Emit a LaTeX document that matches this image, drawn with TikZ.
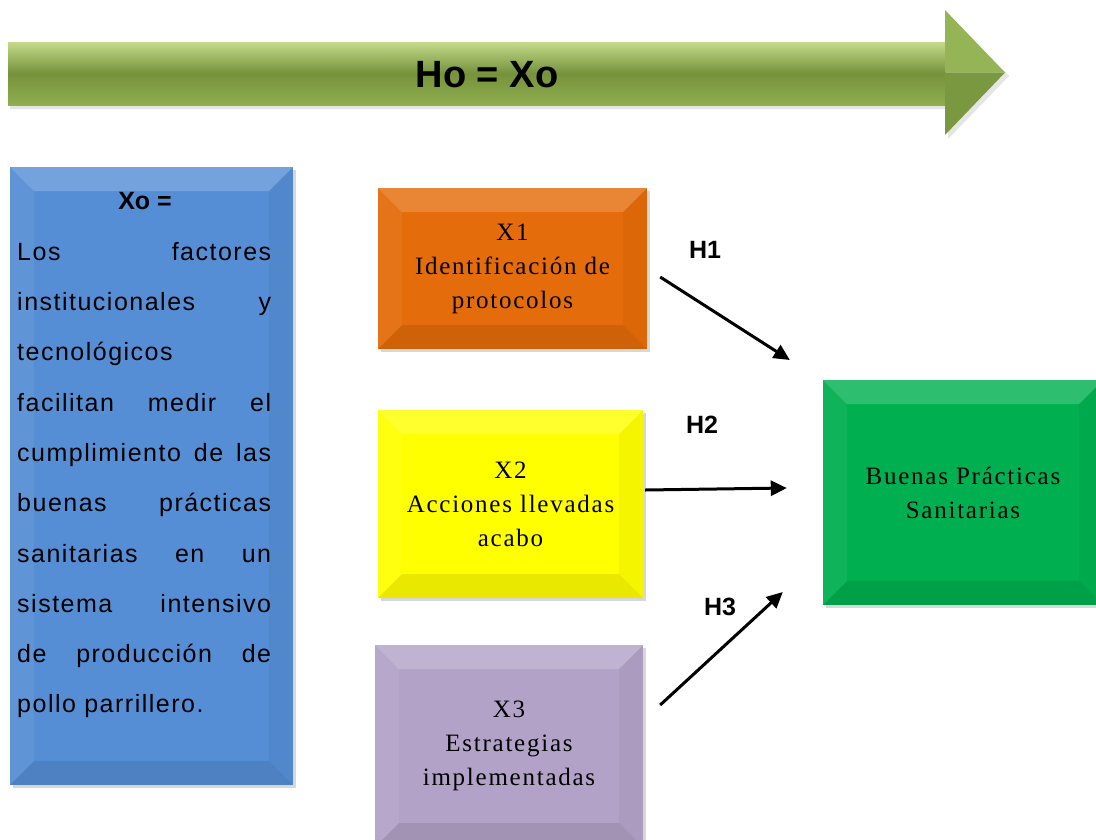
\documentclass[tikz,border=0pt]{standalone}
\usepackage{fontspec}
\setmainfont{Liberation Serif}
\setsansfont{Liberation Sans}
\newfontfamily\boxfont[LetterSpace=7]{Liberation Serif}
\newfontfamily\bluefont[LetterSpace=6]{Liberation Sans}
\usetikzlibrary{shadows,arrows.meta}
\definecolor{arrLight}{HTML}{C3DA8A}
\definecolor{arrMid}{HTML}{76923C}
\definecolor{arrBot}{HTML}{8FAE4E}
\definecolor{headUp}{HTML}{94B455}
\definecolor{headDn}{HTML}{7A9840}
\definecolor{blueBox}{HTML}{558ED5}
\definecolor{orangeBox}{HTML}{E46C0A}
\definecolor{yellowBox}{HTML}{FFFF00}
\definecolor{purpleBox}{HTML}{B3A2C7}
\definecolor{greenBox}{HTML}{00B050}
\newcommand\jline[1]{\hbox to 254pt{#1}}
\tikzset{
  bevel/.style={path picture={
    \fill[white,opacity=.18] (path picture bounding box.north west) -- (path picture bounding box.north east)
      -- ([shift={(-24pt,-24pt)}]path picture bounding box.north east) -- ([shift={(24pt,-24pt)}]path picture bounding box.north west) -- cycle;
    \fill[white,opacity=.06] (path picture bounding box.north west) -- (path picture bounding box.south west)
      -- ([shift={(24pt,24pt)}]path picture bounding box.south west) -- ([shift={(24pt,-24pt)}]path picture bounding box.north west) -- cycle;
    \fill[black,opacity=.04] (path picture bounding box.north east) -- (path picture bounding box.south east)
      -- ([shift={(-24pt,24pt)}]path picture bounding box.south east) -- ([shift={(-24pt,-24pt)}]path picture bounding box.north east) -- cycle;
    \fill[black,opacity=.09] (path picture bounding box.south west) -- (path picture bounding box.south east)
      -- ([shift={(-24pt,24pt)}]path picture bounding box.south east) -- ([shift={(24pt,24pt)}]path picture bounding box.south west) -- cycle;
  }},
  boxbase/.style={rectangle, inner sep=0pt, bevel,
    drop shadow={shadow xshift=3pt, shadow yshift=-3pt, opacity=.3}},
  varbox/.style={boxbase, align=center, font=\boxfont\fontsize{25}{34}\selectfont},
  hlabel/.style={font=\sffamily\bfseries\fontsize{25}{30}\selectfont, inner sep=0pt},
  harrow/.style={line width=3pt, -{Triangle[length=16pt,width=15pt]}},
}
\begin{document}
\begin{tikzpicture}[x=1pt,y=-1pt]
\useasboundingbox (0,0) rectangle (1096,839);
\fill[white] (0,0) rectangle (1096,839);
% big arrow
\fill[black,opacity=.10] (10,46) -- (948,46) -- (948,14) -- (1009,76) -- (948,139) -- (948,109) -- (10,109) -- cycle;
\shade[top color=arrLight, bottom color=arrBot, middle color=arrMid] (8,42) rectangle (946,105);
\fill[headUp] (945,10) -- (1005,72.5) -- (945,72.5) -- cycle;
\fill[headDn] (945,135) -- (1005,72.5) -- (945,72.5) -- cycle;
\node[font=\sffamily\bfseries\fontsize{38}{40}\selectfont, inner sep=0pt] (title) at (487,75) {Ho = Xo};
% blue box
\node[boxbase, fill=blueBox, minimum width=283pt, minimum height=618pt] (xo) at (151.5,476) {};
\node[font=\sffamily\bfseries\fontsize{25}{28}\selectfont, inner sep=0pt] (xot) at (145,201) {Xo =};
\node[anchor=north west, inner sep=0pt, text width=254pt, align=left,
      font=\bluefont\fontsize{25}{50.3}\selectfont] (xotext) at (17,242) {%
\jline{Los\hfill factores}
\jline{institucionales\hfill y}
\jline{tecnológicos\hfill}
\jline{facilitan\hfill medir\hfill el}
\jline{cumplimiento\hfill de\hfill las}
\jline{buenas\hfill prácticas}
\jline{sanitarias\hfill en\hfill un}
\jline{sistema\hfill intensivo}
\jline{de\hfill producción\hfill de}
\jline{pollo parrillero.\hfill}};
% variable boxes
\node[varbox, fill=orangeBox, minimum width=269pt, minimum height=161pt] (x1) at (512.5,268.5) {X1\\Identificación de\\protocolos};
\node[varbox, fill=yellowBox, minimum width=265pt, minimum height=188pt] (x2) at (510.5,504) {X2\\Acciones llevadas\\acabo};
\node[varbox, fill=purpleBox, minimum width=268pt, minimum height=202pt] (x3) at (509,746) {X3\\Estrategias\\implementadas};
\node[varbox, fill=greenBox, minimum width=280pt, minimum height=225pt] (bp) at (963,492.5) {Buenas Prácticas\\Sanitarias};
% arrows
\draw[harrow] ([shift={(13pt,-8.5pt)}]x1.east) -- ([shift={(-33pt,132.5pt)}]bp.west);
\draw[harrow] ([shift={(2pt,14pt)}]x2.east) -- ([shift={(-36pt,4.5pt)}]bp.west);
\draw[harrow] ([shift={(17pt,41pt)}]x3.east) -- ([shift={(-40pt,-99.5pt)}]bp.west);
\node[hlabel] (h1) at (705,250) {H1};
\node[hlabel] (h2) at (702,425) {H2};
\node[hlabel] (h3) at (720,607) {H3};
\end{tikzpicture}
\end{document}
